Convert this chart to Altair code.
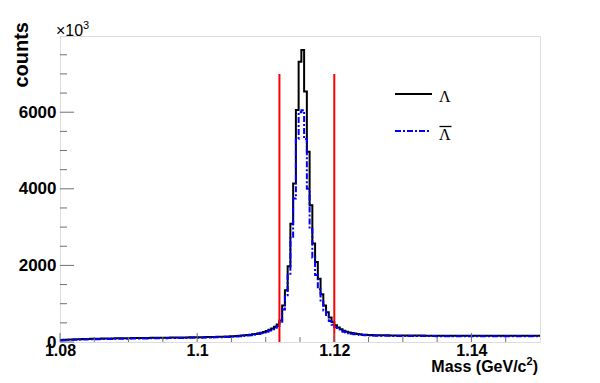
import altair as alt
import pandas as pd

# ---- data ---------------------------------------------------------------
x_min = 1.08
x_max = 1.15
bin_width = 0.0004
y_max = 7990

lambda_counts = [
    52, 58, 62, 65, 68, 70, 73, 75, 77, 79,
    81, 83, 84, 86, 87, 89, 90, 92, 93, 94,
    95, 97, 98, 99, 100, 101, 102, 103, 104, 105,
    106, 106, 107, 108, 109, 110, 111, 112, 113, 114,
    115, 115, 116, 117, 118, 119, 120, 121, 122, 123,
    125, 126, 127, 128, 130, 131, 133, 135, 137, 139,
    142, 145, 148, 152, 156, 161, 167, 174, 182, 190,
    200, 212, 226, 243, 262, 290, 320, 355, 400, 455,
    560, 950, 1350, 1980, 3090, 4140, 6060, 7320, 7625, 6540,
    4970, 3570, 2570, 2090, 1650, 1250, 950, 780, 640, 520,
    440, 380, 330, 295, 270, 250, 235, 222, 210, 200,
    192, 187, 184, 181, 179, 177, 176, 175, 174, 173,
    172, 171, 171, 170, 170, 169, 169, 168, 168, 168,
    167, 167, 167, 166, 166, 166, 166, 165, 165, 165,
    165, 165, 165, 164, 164, 164, 164, 164, 164, 164,
    164, 163, 163, 163, 163, 163, 163, 163, 163, 163,
    163, 163, 162, 162, 162, 162, 162, 162, 162, 162,
    162, 162, 162, 162, 162,
]

antilambda_counts = [
    40, 46, 50, 53, 56, 58, 61, 63, 65, 67,
    69, 71, 72, 74, 75, 77, 78, 80, 81, 82,
    83, 85, 86, 87, 88, 89, 90, 91, 92, 93,
    94, 94, 95, 96, 97, 98, 99, 100, 101, 102,
    103, 103, 104, 105, 106, 107, 108, 109, 110, 111,
    113, 114, 115, 116, 118, 119, 121, 123, 125, 127,
    130, 133, 136, 140, 144, 149, 155, 162, 170, 178,
    188, 198, 211, 227, 245, 270, 298, 330, 372, 420,
    500, 850, 1220, 1780, 2750, 3750, 5300, 6000, 6050, 5300,
    4000, 2950, 2200, 1750, 1380, 1050, 820, 670, 550, 450,
    385, 335, 295, 265, 245, 228, 214, 203, 194, 186,
    180, 175, 172, 169, 167, 165, 164, 163, 162, 161,
    160, 159, 159, 158, 158, 157, 157, 156, 156, 156,
    155, 155, 155, 154, 154, 154, 154, 153, 153, 153,
    153, 153, 153, 152, 152, 152, 152, 152, 152, 152,
    152, 151, 151, 151, 151, 151, 151, 151, 151, 151,
    151, 151, 150, 150, 150, 150, 150, 150, 150, 150,
    150, 150, 150, 150, 150,
]

cut_values = [1.112, 1.120]
cut_height = 7000

x_label_values = [1.08, 1.10, 1.12, 1.14]
x_minor_values = [1.085, 1.09, 1.095, 1.105, 1.11, 1.115, 1.125, 1.13, 1.135, 1.145]
y_label_values = [0, 2000, 4000, 6000]
y_minor_values = [500, 1000, 1500, 2500, 3000, 3500, 4500, 5000, 5500, 6500, 7000, 7500]

legend_labels = ["Λ", "Λ"]

# ---- layout -------------------------------------------------------------
W, H = 480, 306
FONT = "Liberation Sans"
SERIF = "Liberation Serif"
FRAME = "#707070"


def step_frame(counts):
    n = len(counts)
    xs = [x_min + i * bin_width for i in range(n)] + [x_min + n * bin_width]
    ys = list(counts) + [counts[-1]]
    return pd.DataFrame({"mass": xs, "counts": ys})


xscale = alt.Scale(domain=[x_min, x_max], nice=False, zero=False)
yscale = alt.Scale(domain=[0, y_max], nice=False, zero=False)

xaxis = alt.Axis(values=x_label_values, format="~g", title=None, domain=False,
                 ticks=False, grid=False, labelFont=FONT, labelFontWeight="bold",
                 labelFontSize=16, labelColor="black", labelPadding=0, labelFlush=False)
yaxis = alt.Axis(values=y_label_values, format="d", title=None, domain=False,
                 ticks=False, grid=False, labelFont=FONT, labelFontWeight="bold",
                 labelFontSize=17, labelColor="black", labelPadding=4)

X = lambda f: alt.X(f, type="quantitative", scale=xscale, axis=xaxis)
Y = lambda f: alt.Y(f, type="quantitative", scale=yscale, axis=yaxis)

black = alt.Chart(step_frame(lambda_counts)).mark_line(
    interpolate="step-after", color="black", strokeWidth=2
).encode(x=X("mass"), y=Y("counts"))

blue = alt.Chart(step_frame(antilambda_counts)).mark_line(
    interpolate="step-after", color="#0000ff", strokeWidth=2, strokeDash=[6, 2, 2, 2]
).encode(x=X("mass"), y=Y("counts"))

cuts = alt.Chart(pd.DataFrame({"cut": cut_values, "zero": [0, 0],
                               "top": [cut_height, cut_height]})).mark_rule(
    color="#ff0000", strokeWidth=2
).encode(x=X("cut"), y=Y("zero"), y2="top")

xmaj = alt.Chart(pd.DataFrame({"v": x_label_values})).mark_rule(
    color=FRAME, strokeWidth=1
).encode(x=X("v"), y=alt.value(H), y2=alt.value(H - 9))
xmin_ = alt.Chart(pd.DataFrame({"v": x_minor_values})).mark_rule(
    color=FRAME, strokeWidth=1
).encode(x=X("v"), y=alt.value(H), y2=alt.value(H - 5))
ymaj = alt.Chart(pd.DataFrame({"v": y_label_values})).mark_rule(
    color=FRAME, strokeWidth=1
).encode(y=Y("v"), x=alt.value(0), x2=alt.value(14))
ymin_ = alt.Chart(pd.DataFrame({"v": y_minor_values})).mark_rule(
    color=FRAME, strokeWidth=1
).encode(y=Y("v"), x=alt.value(0), x2=alt.value(7))

one = pd.DataFrame({"t": [""]})


def label(text, x, y, size, weight="normal", font=FONT, align="left", angle=0):
    kw = dict(font=font, fontSize=size, fontWeight=weight, align=align,
              baseline="alphabetic", color="black")
    if angle:
        kw["angle"] = angle
    return alt.Chart(pd.DataFrame({"t": [text]})).mark_text(**kw).encode(
        text="t:N", x=alt.value(x), y=alt.value(y))


leg_black = alt.Chart(one).mark_rule(color="black", strokeWidth=2).encode(
    x=alt.value(335), x2=alt.value(372), y=alt.value(58))
leg_blue = alt.Chart(one).mark_rule(color="#0000ff", strokeWidth=2,
                                    strokeDash=[6, 2, 2, 2]).encode(
    x=alt.value(335), x2=alt.value(371), y=alt.value(95))
leg_t1 = label(legend_labels[0], 379, 65.5, 16, font=SERIF)
leg_t2 = label(legend_labels[1], 379, 104, 16, font=SERIF)
leg_bar = alt.Chart(one).mark_rule(color="black", strokeWidth=1.3).encode(
    x=alt.value(379.5), x2=alt.value(391.5), y=alt.value(90.5))

times = label("×10", -4, 0, 16)
times_exp = label("3", 23, -7, 11)
ytitle = label("counts", -32, -14, 20, weight="bold", align="right", angle=270)
xt_close = label(")", 478, 335.5, 16, weight="bold", align="right")
xt_sup = label("2", 472.7, 329, 11, weight="bold", align="right")
xt_main = label("Mass (GeV/c", 466.5, 335.5, 16, weight="bold", align="right")

chart = alt.layer(
    black, blue, cuts, xmaj, xmin_, ymaj, ymin_,
    leg_black, leg_blue, leg_t1, leg_t2, leg_bar,
    times, times_exp, ytitle, xt_close, xt_sup, xt_main
).properties(
    width=W, height=H,
    padding={"left": 52, "top": 28, "right": 48, "bottom": 33},
    autosize=alt.AutoSizeParams(type="none"),
).configure_view(stroke=FRAME, strokeWidth=1.5).configure(background="white")

chart.save("out.html", embed_options={"renderer": "svg", "actions": False})
